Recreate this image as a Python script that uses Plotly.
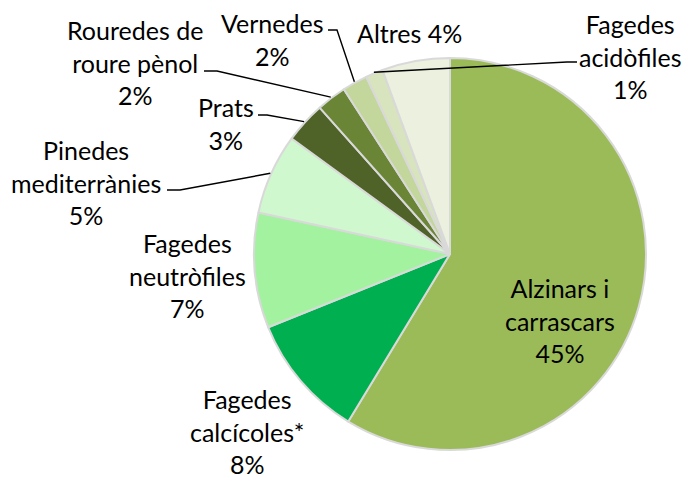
import math
import plotly.graph_objects as go

# ---- data ----
categories = ["Alzinars i carrascars", "Fagedes calcícoles*", "Fagedes neutròfiles",
              "Pinedes mediterrànies", "Prats", "Rouredes de roure pènol", "Vernedes",
              "Fagedes acidòfiles", "Altres"]
values = [45.1, 7.85, 7.3, 5.1, 2.6, 1.9, 1.6, 1.1, 4.3]
label_texts = ["Alzinars i<br>carrascars<br>45%",
               "Fagedes<br>calcícoles*<br>8%",
               "Fagedes<br>neutròfiles<br>7%",
               "Pinedes<br>mediterrànies<br>5%",
               "Prats<br>3%",
               "Rouredes de<br>roure pènol<br>2%",
               "Vernedes<br>2%",
               "Fagedes<br>acidòfiles<br>1%",
               "Altres 4%"]
colors = ["#9BBB59", "#00B050", "#A3F2A0", "#D0F8CF", "#4F6228",
          "#6A8535", "#C3D69B", "#D7E4BD", "#EBF1DE"]

# ---- layout constants (pixels) ----
W, H = 683, 480
CX, CY, R = 450, 254, 196

# label centres (pixels)
label_pos = [(560, 320), (247, 431), (187, 275), (86, 182), (226, 124),
             (135, 63), (272, 39), (630, 56), (409, 33)]
# leader line stubs (start, bend) in pixels; None = no leader
leader_stub = [None, None, None,
               ((167, 190), (180, 190)),
               ((258, 115), (267, 115)),
               ((204, 71), (217, 71)),
               ((328, 30), (337, 30)),
               ((577, 62), (567, 62)),
               None]


def px_to_paper(x, y):
    return x / W, 1 - y / H


fig = go.Figure()
fig.add_trace(go.Pie(
    labels=categories, values=values, sort=False, direction="clockwise", rotation=0,
    marker=dict(colors=colors, line=dict(color="#D9D9D9", width=2)),
    textinfo="none", hoverinfo="label+percent",
    domain=dict(x=[(CX - R) / W, (CX + R) / W], y=[1 - (CY + R) / H, 1 - (CY - R) / H]),
    showlegend=False,
))

total = sum(values)
cum = 0.0
annotations = []
shapes = []
for i, v in enumerate(values):
    mid = (cum + v / 2) / total * 2 * math.pi  # clockwise from 12 o'clock
    cum += v
    ex = CX + (R + 1) * math.sin(mid)
    ey = CY - (R + 1) * math.cos(mid)
    lx, ly = label_pos[i]
    ax, ay = px_to_paper(lx, ly)
    annotations.append(dict(
        x=ax, y=ay, xref="paper", yref="paper", text=label_texts[i], showarrow=False,
        xanchor="center", yanchor="middle", align="center",
        font=dict(family="Lato", size=25, color="#000000")))
    if leader_stub[i] is not None:
        (sx, sy), (bx, by) = leader_stub[i]
        p = [px_to_paper(sx, sy), px_to_paper(bx, by), px_to_paper(ex, ey)]
        path = "M {} {} L {} {} L {} {}".format(p[0][0], p[0][1], p[1][0], p[1][1], p[2][0], p[2][1])
        shapes.append(dict(type="path", xref="paper", yref="paper", path=path,
                           line=dict(color="#000000", width=1.4)))

fig.update_layout(
    width=W, height=H, margin=dict(l=0, r=0, t=0, b=0),
    paper_bgcolor="white", plot_bgcolor="white",
    annotations=annotations, shapes=shapes,
)

fig.write_html("out.html", config={"displayModeBar": False},
               post_script="document.body.style.margin='0';document.body.style.padding='0';")
